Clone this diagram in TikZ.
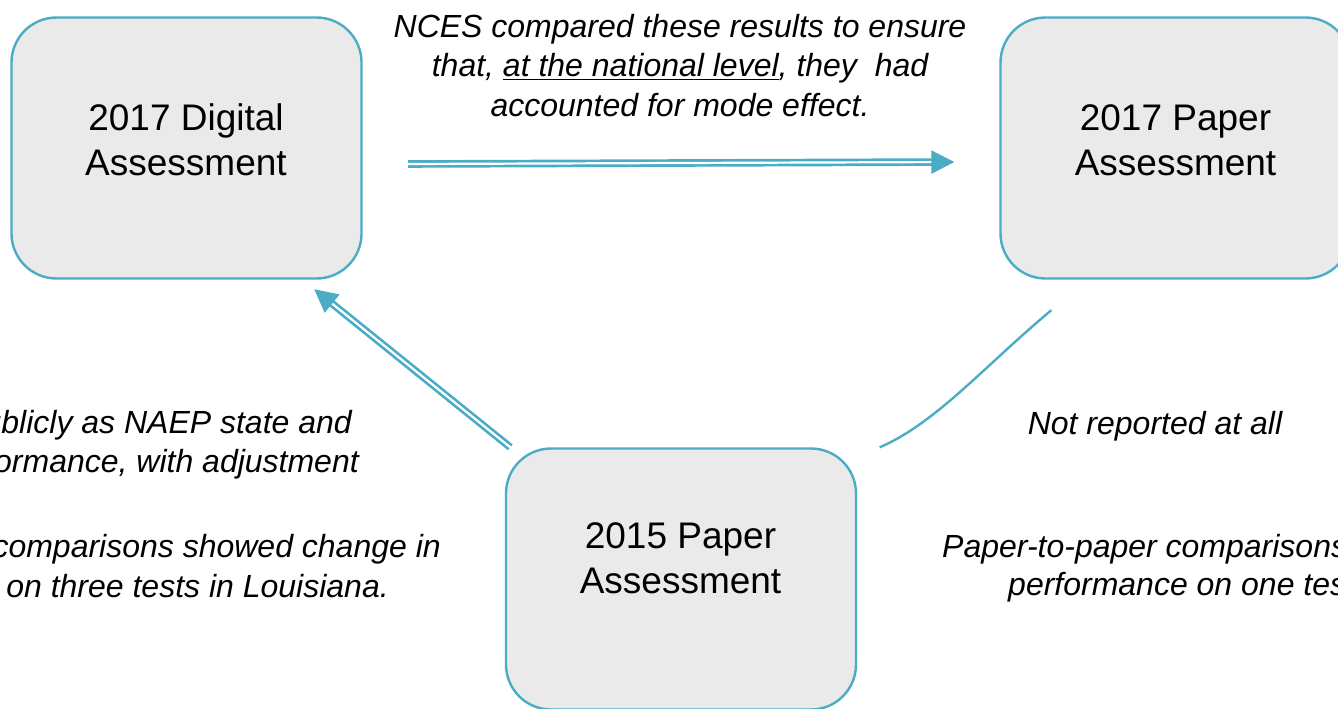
\documentclass[tikz,border=0pt]{standalone}
\usepackage{fontspec}
\setmainfont{Liberation Sans}
\usetikzlibrary{arrows.meta}
\definecolor{teal1}{RGB}{75,172,198}
\definecolor{boxfill}{RGB}{234,234,234}
\tikzset{
  assessbox/.style={draw=teal1, line width=2.4pt, fill=boxfill, rectangle, rounded corners=45pt,
    minimum width=350pt, minimum height=261pt, inner sep=0pt},
  boxlabel/.style={inner sep=0pt, anchor=base, font=\fontsize{37}{44}\selectfont},
  note/.style={inner sep=0pt, font=\fontsize{32}{39}\selectfont\itshape},
  dblarrow/.style={draw=teal1, double=white, line width=2.7pt, double distance=2.2pt,
    -{Triangle[length=23pt,width=23pt]}},
  plainlink/.style={draw=teal1, line width=2.4pt},
}
\begin{document}
\begin{tikzpicture}[x=1pt,y=-1pt]
\useasboundingbox (0,0) rectangle (1338,709);
% boxes
\node[assessbox] (d17) at (186.5,148) {};
\node[assessbox] (p17) at (1175.5,148) {};
\node[assessbox] (p15) at (681,579) {};
% box labels
\node[boxlabel] (d17a) at (186,130) {2017 Digital};
\node[boxlabel] (d17b) at (186,175) {Assessment};
\node[boxlabel] (p17a) at (1175.5,130) {2017 Paper};
\node[boxlabel] (p17b) at (1175.5,175) {Assessment};
\node[boxlabel] (p15a) at (680.5,548) {2015 Paper};
\node[boxlabel] (p15b) at (680.5,593) {Assessment};
% connectors
\draw[dblarrow] ([xshift=45.5pt,yshift=-16pt]d17.east) -- ([xshift=-45pt,yshift=-14pt]p17.west);
\draw[dblarrow] ([xshift=5.5pt]p15.north west) -- ([xshift=-48.5pt,yshift=-9.5pt]d17.south east);
\draw[plainlink] ([xshift=22.5pt]p15.north east) .. controls +(56,-24) and +(-67,56) .. ([xshift=52pt,yshift=-30.5pt]p17.south west);
% top note
\node[note, anchor=base] (t1) at (680,37.5) {NCES compared these results to ensure};
\node[note, anchor=base] (t2) at (680,77) {that, \underline{at the national level}, they\ \ had};
\node[note, anchor=base] (t3) at (680,116.5) {accounted for mode effect.};
% left notes
\node[note, anchor=base east] (l1) at (352,433) {publicly as NAEP state and};
\node[note, anchor=base east] (l2) at (359,472) {performance, with adjustment};
\node[note, anchor=base east] (l3) at (441,557) {comparisons showed change in};
\node[note, anchor=base east] (l4) at (389,597) {performance on three tests in Louisiana.};
% right notes
\node[note, anchor=base] (r1) at (1155,434) {Not reported at all};
\node[note, anchor=base west] (r2) at (942,557) {Paper-to-paper comparisons};
\node[note, anchor=base west] (r3) at (1008,595) {performance on one test};
\end{tikzpicture}
\end{document}
